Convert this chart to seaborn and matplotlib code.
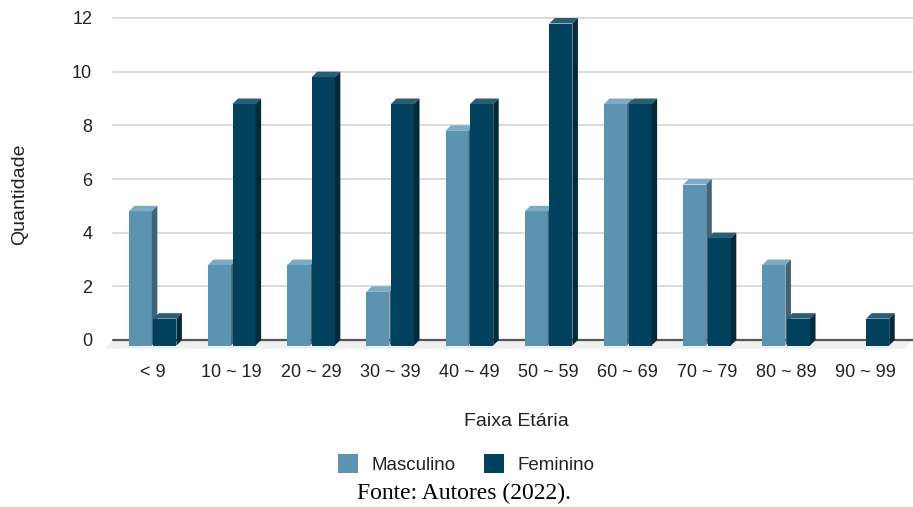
import matplotlib
matplotlib.use("Agg")
import matplotlib.pyplot as plt
from matplotlib.patches import Polygon, Patch
import seaborn as sns
import pandas as pd

# Age brackets and counts per sex
faixas = ["< 9", "10 ~ 19", "20 ~ 29", "30 ~ 39", "40 ~ 49",
          "50 ~ 59", "60 ~ 69", "70 ~ 79", "80 ~ 89", "90 ~ 99"]
masculino = [5, 3, 3, 2, 8, 5, 9, 6, 3, 0]
feminino = [1, 9, 10, 9, 9, 12, 9, 4, 1, 1]
series = ["Masculino", "Feminino"]
y_ticks = [0, 2, 4, 6, 8, 10, 12]

# face colours: front, top, side
faces = {
    "Masculino": ("#5b93b0", "#7eaac3", "#3f6479"),
    "Feminino": ("#02425e", "#2d5d75", "#012a3b"),
}

df = pd.DataFrame({
    "Faixa": faixas * 2,
    "Sexo": ["Masculino"] * len(faixas) + ["Feminino"] * len(faixas),
    "Quantidade": masculino + feminino,
})

sns.set_theme(style="white")
plt.rcParams["font.family"] = ["Liberation Sans", "DejaVu Sans"]

W, H = 913, 507
fig = plt.figure(figsize=(W / 100, H / 100), dpi=100)
ax_left, ax_right, ax_top, ax_bottom = 113, 913, 18, 340
ax = fig.add_axes([ax_left / W, 1 - ax_bottom / H,
                   (ax_right - ax_left) / W, (ax_bottom - ax_top) / H])

sns.barplot(data=df, x="Faixa", y="Quantidade", hue="Sexo",
            hue_order=series, order=faixas,
            palette={k: v[0] for k, v in faces.items()},
            width=0.62, gap=0.06, linewidth=0, saturation=1,
            ax=ax, zorder=3, legend=False)

xmax = -0.5 + (ax_right - ax_left) / 79.2
ax.set_xlim(-0.5, xmax)
ax.set_ylim(0, 12)

# pixel depth of the extruded boxes, in data units
px_x = 79.2
px_y = (ax_bottom - ax_top) / 12
dx = 5.5 / px_x
dy = 5.5 / px_y

# give each bar a depth: front face dropped, top and side faces added
patches = list(ax.patches)
for i, p in enumerate(patches):
    h = p.get_height()
    sex = series[0] if i < len(faixas) else series[1]
    front, top, side = faces[sex]
    cat = i % len(faixas)
    z = 3 + cat * 0.1 + (0.05 if sex == "Feminino" else 0)
    if h == 0:
        p.set_visible(False)
        continue
    x0 = p.get_x()
    x1 = x0 + p.get_width()
    p.set_y(-dy)
    p.set_zorder(z)
    p.set_clip_on(False)
    ax.add_patch(Polygon([(x0, h - dy), (x1, h - dy), (x1 + dx, h), (x0 + dx, h)],
                         closed=True, facecolor=top, edgecolor="none",
                         zorder=z, clip_on=False))
    ax.add_patch(Polygon([(x1, h - dy), (x1 + dx, h), (x1 + dx, 0), (x1, -dy)],
                         closed=True, facecolor=side, edgecolor="none",
                         zorder=z, clip_on=False))

# floor below the baseline
fl = 1.6 * dy
ax.add_patch(Polygon([(-0.5, 0), (xmax, 0), (xmax - 8 / px_x, -fl), (-0.5 - 8 / px_x, -fl)],
                     closed=True, facecolor="#f0f0f0", edgecolor="none",
                     zorder=1, clip_on=False))

# grid and baseline
for t in y_ticks[1:]:
    ax.axhline(t, color="#d4d4d4", lw=1.2, zorder=0.5, clip_on=False)
ax.axhline(0, color="#555555", lw=1.6, zorder=2, clip_on=False)

for s in ax.spines.values():
    s.set_visible(False)
ax.set_yticks(y_ticks)
ax.set_yticklabels([str(t) for t in y_ticks])
ax.tick_params(axis="y", length=0, pad=15, labelsize=13, labelcolor="#222222")
ax.tick_params(axis="x", length=0, pad=17, labelsize=13, labelcolor="#222222")

ax.set_xlabel("Faixa Etária", fontsize=14, color="#222222", va="center")
ax.xaxis.set_label_coords((516 - ax_left) / (ax_right - ax_left),
                          (ax_bottom - 422) / (ax_bottom - ax_top))
ax.set_ylabel("Quantidade", fontsize=14, color="#222222", va="center", ha="center")
ax.yaxis.set_label_coords((20 - ax_left) / (ax_right - ax_left),
                          (ax_bottom - 194) / (ax_bottom - ax_top))

handles = [Patch(facecolor=faces[s][0], edgecolor="none", label=s) for s in series]
fig.legend(handles=handles, loc="center", bbox_to_anchor=(466 / W, 1 - 464 / H),
           ncol=2, frameon=False, fontsize=13.5, handlelength=1.1, handleheight=1.15,
           handletextpad=0.7, columnspacing=1.5, labelcolor="#222222")

fig.text(464 / W, 1 - 493 / H, "Fonte: Autores (2022).", ha="center", va="center",
         fontsize=17, family=["Liberation Serif", "DejaVu Serif"], color="black")

fig.savefig("out.png", dpi=100)
